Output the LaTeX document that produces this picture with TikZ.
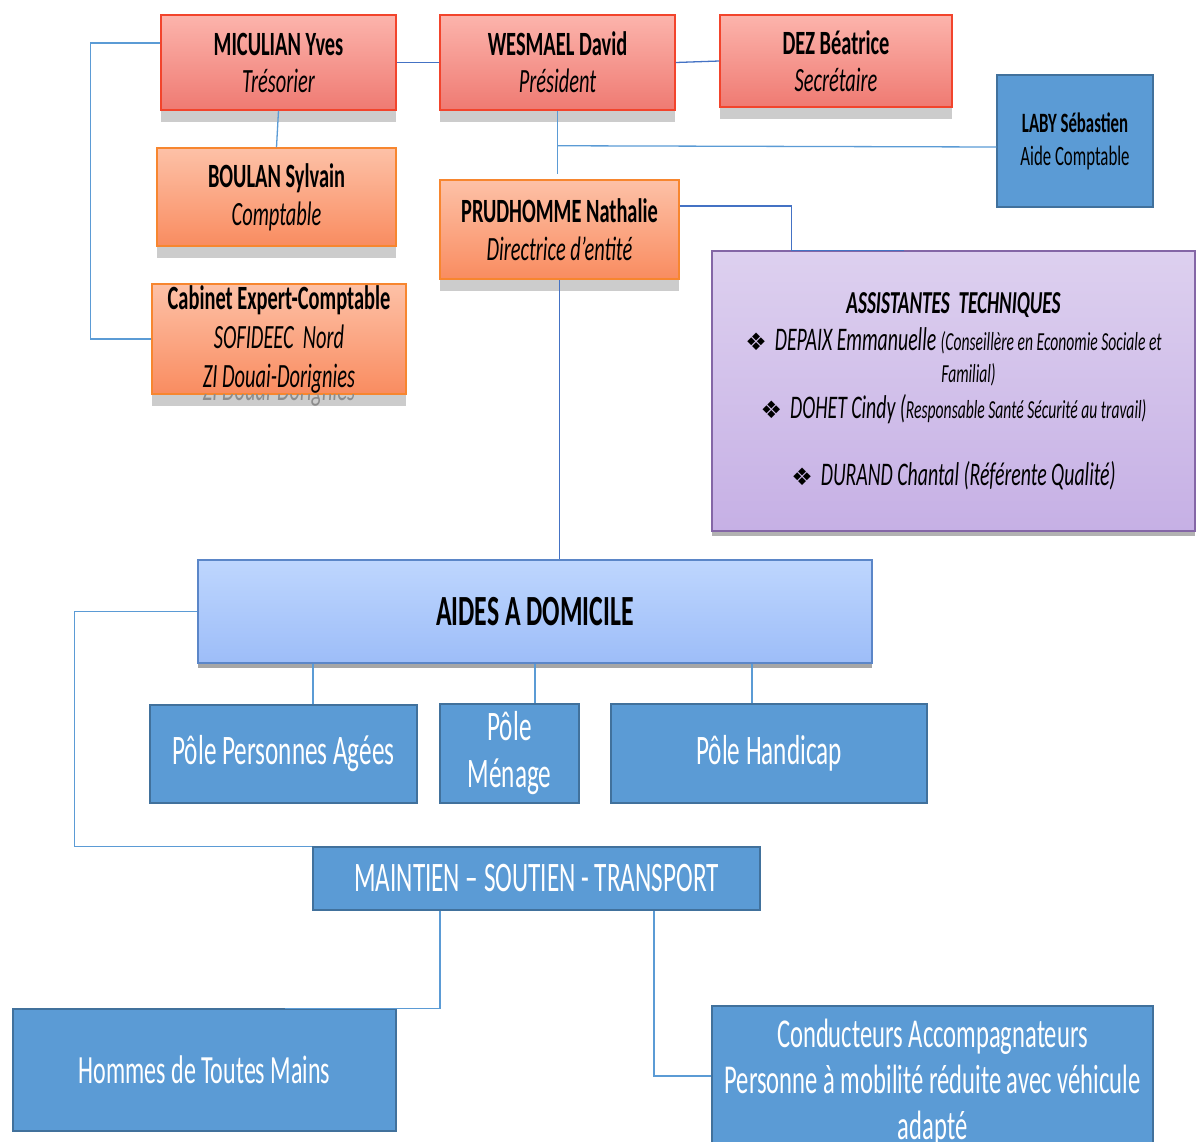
\documentclass[tikz,border=0pt]{standalone}
\usepackage{fontspec}
\setmainfont{Carlito}[FakeStretch=0.6]
\newfontfamily\symfont{DejaVu Sans}
\usetikzlibrary{shadows}
\definecolor{redtop}{HTML}{FCB4AC}
\definecolor{redbot}{HTML}{EF7A72}
\definecolor{redline}{HTML}{F2442C}
\definecolor{orangetop}{HTML}{FDC1A7}
\definecolor{orangebot}{HTML}{F98C60}
\definecolor{orangeline}{HTML}{F7862F}
\definecolor{purpletop}{HTML}{DDD0EF}
\definecolor{purplebot}{HTML}{C6B0E5}
\definecolor{purpleline}{HTML}{8466A6}
\definecolor{skytop}{HTML}{BED6FE}
\definecolor{skybot}{HTML}{9DBDF8}
\definecolor{skyline}{HTML}{5B86C8}
\definecolor{boxblue}{HTML}{5B9BD5}
\definecolor{boxline}{HTML}{41719C}
\definecolor{linkblue}{HTML}{5B9BD5}
\definecolor{linkdark}{HTML}{4472C4}
\tikzstyle{box}=[rectangle, inner sep=0pt, align=center, line width=1.5pt]
\tikzstyle{redbox}=[box, draw=redline, top color=redtop, bottom color=redbot, drop shadow={shadow xshift=0pt, shadow yshift=-12pt, fill=black!20, opacity=1}, font=\fontsize{34}{37}\selectfont]
\tikzstyle{orangebox}=[box, draw=orangeline, top color=orangetop, bottom color=orangebot, drop shadow={shadow xshift=0pt, shadow yshift=-12pt, fill=black!20, opacity=1}, font=\fontsize{34}{38}\selectfont]
\tikzstyle{purplebox}=[box, draw=purpleline, top color=purpletop, bottom color=purplebot, drop shadow={shadow xshift=0pt, shadow yshift=-5pt, fill=black!30, opacity=1}, font=\fontsize{33}{36}\selectfont\itshape]
\tikzstyle{skybox}=[box, draw=skyline, top color=skytop, bottom color=skybot, drop shadow={shadow xshift=0pt, shadow yshift=-5pt, fill=black!35, opacity=1}, font=\fontsize{43}{48}\selectfont\bfseries]
\tikzstyle{bluebox}=[box, draw=boxline, fill=boxblue, text=white, font=\fontsize{42}{47}\selectfont]
\tikzstyle{ghost}=[inner sep=0pt, text=black!45, font=\fontsize{34}{38}\selectfont\itshape]
\tikzstyle{link}=[draw=linkblue, line width=1.3pt]
\tikzstyle{darklink}=[draw=linkdark, line width=1.3pt]
\newcommand{\redbox}{\node[redbox]}
\newcommand{\orangebox}{\node[orangebox]}
\newcommand{\bluebox}{\node[bluebox]}
\newcommand{\diamondbullet}{{\symfont\upshape\fontsize{24}{24}\selectfont ❖}\hspace{8pt}}
\newcommand{\smallfont}{\fontsize{26}{28}\selectfont}

\begin{document}
\begin{tikzpicture}[x=1pt, y=-1pt]
\useasboundingbox (0,0) rectangle (1196,1141);
\redbox[minimum width=235pt, minimum height=95pt] (micu) at (278.5,62.5) {\bfseries MICULIAN Yves\\ \itshape Trésorier};
\redbox[minimum width=235pt, minimum height=95pt] (wesm) at (557.5,62.5) {\bfseries WESMAEL David\\ \itshape Président};
\redbox[minimum width=232pt, minimum height=92pt] (dez) at (836,61) {\bfseries DEZ Béatrice\\ \itshape Secrétaire};
\bluebox[minimum width=156pt, minimum height=132pt, text=black, font=\fontsize{28}{33}\selectfont] (laby) at (1075,141) {\bfseries LABY Sébastien\\ Aide Comptable};
\orangebox[minimum width=239pt, minimum height=98pt] (boul) at (276.5,197) {\bfseries BOULAN Sylvain\\ \itshape Comptable};
\orangebox[minimum width=239pt, minimum height=99pt] (prud) at (559.5,229.5) {\bfseries PRUDHOMME Nathalie\\ \itshape Directrice d’entité};
\orangebox[minimum width=254pt, minimum height=110pt, font=\fontsize{34}{39}\selectfont] (cab) at (279,339) {\bfseries Cabinet Expert-Comptable\\ \itshape SOFIDEEC\ \ Nord\\ \itshape ZI Douai-Dorignies};
\begin{scope}
\clip (cab.south west) rectangle ([yshift=-14pt]cab.south east);
\node[ghost, anchor=base] (cabghost) at ([yshift=-6pt]cab.south) {ZI Douai-Dorignies};
\end{scope}
\node[purplebox, minimum width=483pt, minimum height=280pt] (assist) at (953.5,391) {
{\fontsize{32}{36}\selectfont\bfseries ASSISTANTES\ \ TECHNIQUES}\\[1pt]
\diamondbullet DEPAIX Emmanuelle {\smallfont (Conseillère en Economie Sociale et}\\[-4pt]
\hspace*{30pt}{\smallfont Familial)}\\
\diamondbullet DOHET Cindy ({\smallfont Responsable Santé Sécurité au travail)}\\[31pt]
\diamondbullet DURAND Chantal (Référente Qualité)};
\node[skybox, minimum width=674pt, minimum height=103pt] (aides) at (535,611.5) {AIDES A DOMICILE};
\bluebox[minimum width=267pt, minimum height=98pt] (ppa) at (283.5,754) {Pôle Personnes Agées};
\bluebox[minimum width=139pt, minimum height=99pt] (menage) at (509.5,753.5) {Pôle\\ Ménage};
\bluebox[minimum width=316pt, minimum height=99pt] (handi) at (769,753.5) {Pôle Handicap};
\bluebox[minimum width=447pt, minimum height=63pt] (maint) at (536.5,878.5) {MAINTIEN -- SOUTIEN - TRANSPORT};
\bluebox[minimum width=383pt, minimum height=122pt, font=\fontsize{40}{46}\selectfont] (hommes) at (204.5,1070) {Hommes de Toutes Mains};
\bluebox[minimum width=441pt, minimum height=154pt, font=\fontsize{41}{46}\selectfont] (cond) at (932.5,1083) {Conducteurs Accompagnateurs\\ Personne à mobilité réduite avec véhicule\\ adapté};

\draw[link] ([yshift=19.5pt]micu.west) -- ++(-70,0) |- (cab.west);
\draw[darklink] (micu.east) -- (wesm.west);
\draw[darklink] (wesm.east) -- (dez.west);
\draw[link] (micu.south) -- (boul.north);
\draw[link] (wesm.south) -- ([yshift=5pt]wesm.south |- prud.north);
\draw[link] (wesm.south) ++(0,35) coordinate (wbr) -- ([yshift=-6pt]laby.west);
\draw[darklink] ([yshift=23.5pt]prud.east) -| ([xshift=80pt]assist.north west) -- ++(113,0);
\draw[darklink] (prud.south) -- (prud.south |- aides.north);
\draw[link] (aides.west) -- ++(-123,0) |- (maint.north west);
\foreach \p/\dx in {ppa/29.5, menage/25.5, handi/-17}{
	\draw[link] ([xshift=\dx pt]\p.north) -- ([xshift=\dx pt]\p.north |- aides.south);
	}
\draw[link] ([xshift=-96.5pt]maint.south) |- ([xshift=80pt]hommes.north);
\draw[link] ([xshift=117.5pt]maint.south) |- ([yshift=7pt]cond.west);
\end{tikzpicture}
\end{document}
